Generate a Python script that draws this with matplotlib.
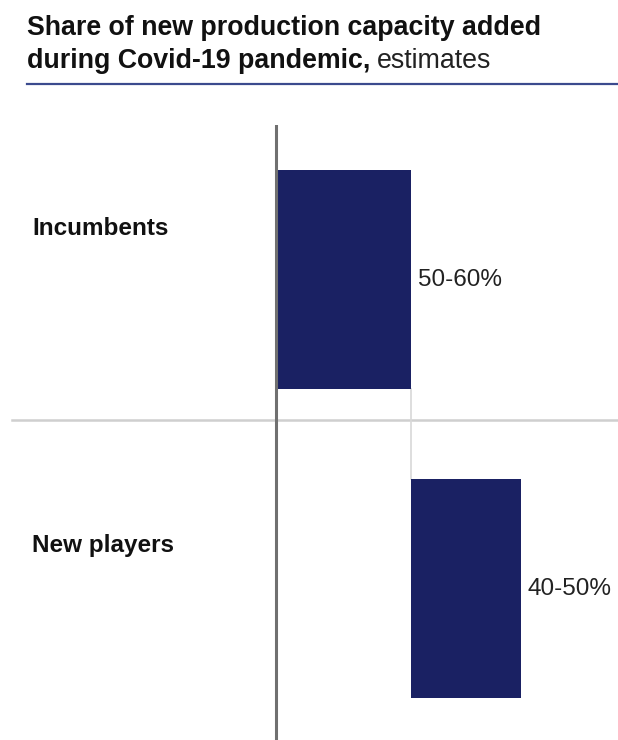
import numpy as np
import matplotlib.pyplot as plt
import matplotlib.transforms as mtransforms

plt.rcParams['font.family'] = ['Liberation Sans', 'DejaVu Sans']

# data
categories = ["Incumbents", "New players"]
shares = [55, 45]            # midpoint of the estimated ranges, %
range_labels = ["50-60%", "40-50%"]

starts = np.concatenate([[0], np.cumsum(shares)[:-1]])

W, H = 618, 740
fig = plt.figure(figsize=(W / 100, H / 100), dpi=100)

# axes from y=125px down to the bottom, full width
ax = fig.add_axes([0, 0, 1, (H - 125) / H])
x0 = 277
px = 134 / 55  # pixels per percent
ax.set_xlim(-x0 / px, (W - x0) / px)
ax.set_ylim(1.49, -0.5)
ax.axis("off")

bar_color = "#1a2163"
bar_h = 0.709
y = np.arange(len(categories))
ax.barh(y, shares, left=starts, height=bar_h, color=bar_color, zorder=3)

# axis line and divider
ax.axvline(-1.2 / px, color="#707070", lw=2.2, zorder=4)
ax.axhline(0.455, xmin=12 / W, xmax=1, color="#cfcfcf", lw=1.8, zorder=1)

# connector between bars
for i in range(len(shares) - 1):
    xe = starts[i] + shares[i]
    ax.plot([xe, xe], [y[i] + bar_h / 2, y[i + 1] - bar_h / 2],
            color="#d8d8d8", lw=1.2, zorder=1)

# value labels
for i, lab in enumerate(range_labels):
    ax.text(starts[i] + shares[i] + 7 / px, y[i], lab, fontsize=17.5,
            va="center", ha="left", color="#222222")

# category labels (sit a bit above the bar centres)
trans = mtransforms.blended_transform_factory(fig.transFigure, ax.transData)
label_shift = [-0.165, -0.14]
for i, cat in enumerate(categories):
    ax.text(32 / W, y[i] + label_shift[i], cat, transform=trans, fontsize=17.5,
            fontweight="bold", va="center", ha="left", color="#111111")

# title
fs = 19.3
fig.text(27 / W, 1 - 35 / H, "Share of new production capacity added",
         fontsize=fs, fontweight="bold", va="baseline", ha="left", color="#111111")
t2 = fig.text(27 / W, 1 - 68 / H, "during Covid-19 pandemic,",
              fontsize=fs, fontweight="bold", va="baseline", ha="left", color="#111111")
fig.canvas.draw()
bb = t2.get_window_extent()
fig.text(bb.x1 / W + 6 / W, 1 - 68 / H, "estimates", fontsize=fs,
         va="baseline", ha="left", color="#222222")

fig.add_artist(plt.Line2D([27 / W, 1], [1 - 84 / H, 1 - 84 / H],
                          transform=fig.transFigure, color="#3b4a8e", lw=1.6))

fig.savefig("out.png", dpi=100)
